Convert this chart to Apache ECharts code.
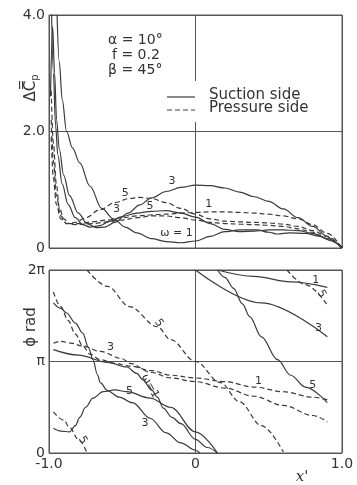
<!DOCTYPE html>
<html>
<head>
<meta charset="utf-8">
<script src="https://cdn.jsdelivr.net/npm/echarts@6/dist/echarts.min.js"></script>
<style>
html, body { margin: 0; padding: 0; background: #fff; }
#chart { width: 357px; height: 485px; }
</style>
</head>
<body>
<div id="chart"></div>
<script>
'use strict';
// 上图: 压差幅值, [x', ΔCp]
var TOP_SUC_1 = [[-0.945,4.0],[-0.93,3.2],[-0.91,2.55],[-0.88,2.0],[-0.84,1.72],[-0.79,1.46],[-0.72,1.06],[-0.64,0.68],[-0.56,0.5],[-0.48,0.36],[-0.4,0.26],[-0.3,0.16],[-0.2,0.11],[-0.1,0.09],[0,0.12],[0.1,0.2],[0.2,0.28],[0.3,0.31],[0.42,0.31],[0.5,0.27],[0.56,0.24],[0.64,0.26],[0.75,0.25],[0.85,0.2],[0.93,0.12],[1.0,0.0]];
var TOP_SUC_3 = [[-0.99,2.6],[-0.975,3.8],[-0.962,3.0],[-0.948,2.2],[-0.93,1.7],[-0.9,1.25],[-0.86,0.9],[-0.8,0.6],[-0.74,0.42],[-0.68,0.35],[-0.62,0.36],[-0.55,0.44],[-0.46,0.6],[-0.38,0.74],[-0.3,0.86],[-0.2,0.97],[-0.1,1.04],[0,1.08],[0.1,1.07],[0.2,1.03],[0.3,0.96],[0.4,0.88],[0.5,0.8],[0.6,0.67],[0.7,0.52],[0.8,0.37],[0.9,0.2],[0.95,0.1],[1.0,0.0]];
var TOP_SUC_5 = [[-0.985,4.4],[-0.97,3.0],[-0.955,2.1],[-0.94,1.6],[-0.91,1.1],[-0.87,0.75],[-0.82,0.52],[-0.77,0.4],[-0.72,0.36],[-0.66,0.38],[-0.58,0.46],[-0.5,0.54],[-0.4,0.6],[-0.3,0.63],[-0.2,0.64],[-0.1,0.6],[0,0.53],[0.1,0.42],[0.2,0.32],[0.3,0.28],[0.4,0.29],[0.5,0.31],[0.6,0.31],[0.7,0.3],[0.8,0.25],[0.9,0.16],[1.0,0.0]];
var TOP_PRE_1 = [[-0.985,2.7],[-0.97,1.8],[-0.95,1.1],[-0.93,0.7],[-0.9,0.5],[-0.86,0.42],[-0.8,0.42],[-0.7,0.45],[-0.6,0.48],[-0.5,0.52],[-0.4,0.55],[-0.3,0.57],[-0.2,0.58],[-0.1,0.6],[0,0.61],[0.1,0.62],[0.2,0.62],[0.3,0.61],[0.4,0.6],[0.5,0.58],[0.6,0.55],[0.7,0.5],[0.8,0.4],[0.9,0.25],[1.0,0.0]];
var TOP_PRE_3 = [[-0.985,2.2],[-0.97,1.5],[-0.95,0.9],[-0.92,0.55],[-0.88,0.42],[-0.82,0.4],[-0.7,0.42],[-0.6,0.45],[-0.5,0.48],[-0.4,0.52],[-0.3,0.55],[-0.2,0.55],[-0.1,0.52],[0,0.48],[0.1,0.44],[0.2,0.42],[0.3,0.41],[0.4,0.4],[0.5,0.39],[0.6,0.37],[0.7,0.33],[0.8,0.27],[0.9,0.16],[1.0,0.0]];
var TOP_PRE_5 = [[-0.985,1.9],[-0.97,1.2],[-0.95,0.75],[-0.92,0.5],[-0.88,0.42],[-0.82,0.44],[-0.75,0.52],[-0.65,0.66],[-0.55,0.78],[-0.45,0.85],[-0.38,0.87],[-0.3,0.85],[-0.2,0.78],[-0.1,0.68],[0,0.58],[0.1,0.5],[0.2,0.46],[0.3,0.45],[0.4,0.44],[0.5,0.43],[0.6,0.41],[0.7,0.37],[0.8,0.3],[0.9,0.2],[1.0,0.0]];

// 下图: 相位, [x', φ/π], 每过 0 就从 2π 重新开始
var PHI_SUC_1_A = [[-0.97,1.13],[-0.8,1.07],[-0.6,0.99],[-0.47,0.94],[-0.4,0.87],[-0.36,0.8],[-0.3,0.69],[-0.26,0.61],[-0.22,0.49],[-0.16,0.39],[-0.1,0.32],[0,0.15],[0.08,0.06],[0.15,0.0]];
var PHI_SUC_1_B = [[0.15,2.0],[0.4,1.93],[0.65,1.87],[0.9,1.81]];
var PHI_SUC_3_A = [[-0.97,1.64],[-0.92,1.58],[-0.88,1.53],[-0.82,1.42],[-0.77,1.31],[-0.73,1.15],[-0.7,1.02],[-0.67,0.86],[-0.65,0.77],[-0.6,0.68],[-0.52,0.61],[-0.43,0.55],[-0.31,0.38],[-0.2,0.22],[-0.1,0.11],[0,0.03],[0.03,0.0]];
var PHI_SUC_3_B = [[0,2.0],[0.45,1.64],[0.9,1.27]];
var PHI_SUC_5_A = [[-0.97,0.27],[-0.92,0.24],[-0.86,0.23],[-0.82,0.3],[-0.79,0.39],[-0.75,0.5],[-0.7,0.6],[-0.63,0.67],[-0.55,0.69],[-0.47,0.67],[-0.31,0.6],[-0.17,0.5],[0,0.23],[0.15,0.0]];
var PHI_SUC_5_B = [[0.15,2.0],[0.2,1.92],[0.26,1.8],[0.32,1.63],[0.37,1.49],[0.45,1.27],[0.56,1.02],[0.65,0.85],[0.75,0.72],[0.9,0.55]];
var PHI_PRE_1 = [[-0.97,1.76],[-0.92,1.6],[-0.87,1.45],[-0.82,1.3],[-0.77,1.17],[-0.72,1.08],[-0.65,1.02],[-0.55,0.98],[-0.45,0.95],[-0.3,0.9],[-0.17,0.85],[0,0.82],[0.2,0.78],[0.4,0.72],[0.6,0.67],[0.8,0.61],[0.9,0.58]];
var PHI_PRE_3 = [[-0.97,1.2],[-0.92,1.22],[-0.85,1.2],[-0.77,1.17],[-0.65,1.11],[-0.5,1.03],[-0.45,0.98],[-0.3,0.88],[-0.17,0.82],[0,0.78],[0.2,0.71],[0.4,0.62],[0.6,0.52],[0.8,0.41],[0.9,0.34]];
var PHI_PRE_5_A = [[-0.97,0.45],[-0.9,0.36],[-0.86,0.28],[-0.8,0.15],[-0.74,0.0]];
var PHI_PRE_5_B = [[-0.74,2.0],[-0.6,1.82],[-0.45,1.6],[-0.26,1.38],[-0.17,1.24],[0,1.0],[0.17,0.77],[0.3,0.56],[0.45,0.3],[0.6,0.01]];
var PHI_PRE_5_C = [[0.625,2.0],[0.75,1.84],[0.9,1.62]];

// 坐标轴刻度
var X_TICKS = { '-1': '-1.0', '0': '0', '1': '1.0' };
var TOP_TICKS = { '0': '0', '2': '2.0', '4': '4.0' };
var PHI_TICKS = { '0': '0', '1': 'π', '2': '2π' };

// 曲线旁的 ω 标注: [gridIndex, x', y, 文本, 旋转]
var CURVE_LABELS = [
    [0, -0.16, 1.14, '3', 0],
    [0, -0.48, 0.95, '5', 0],
    [0, -0.31, 0.72, '5', 0],
    [0, -0.54, 0.66, '3', 0],
    [0, 0.09, 0.76, '1', 0],
    [0, -0.13, 0.26, 'ω = 1', 0],
    [1, 0.82, 1.89, '1', 0],
    [1, 0.86, 1.74, '5', -60],
    [1, 0.84, 1.37, '3', 0],
    [1, 0.8, 0.74, '5', 0],
    [1, 0.43, 0.78, '1', 0],
    [1, -0.25, 1.42, '5', -55],
    [1, -0.58, 1.16, '3', 0],
    [1, -0.45, 0.68, '5', 0],
    [1, -0.31, 0.73, 'ω=1', -62],
    [1, -0.345, 0.33, '3', 0],
    [1, -0.77, 0.14, '5', -60]
];

var INK = '#3a3a3a';
var FONT = 'DejaVu Sans';
var chart = echarts.init(document.getElementById('chart'));

function line(data, grid, dashed) {
    return {
        type: 'line',
        xAxisIndex: grid,
        yAxisIndex: grid,
        data: data,
        smooth: 0.35,
        smoothMonotone: 'x',
        symbol: 'none',
        silent: true,
        lineStyle: {
            color: INK,
            width: 1.2,
            type: dashed ? [5, 3] : 'solid'
        }
    };
}

function xAxis(grid, showLabel) {
    return {
        type: 'value', gridIndex: grid, min: -1, max: 1, interval: 1,
        axisLine: { show: false }, axisTick: { show: false },
        splitLine: { show: true, lineStyle: { color: '#555', width: 1 } },
        axisLabel: {
            show: showLabel, color: '#333', fontFamily: FONT, fontSize: 14, margin: 4,
            formatter: function (v) { return X_TICKS[String(v)]; }
        }
    };
}

function yAxis(grid, max, ticks) {
    return {
        type: 'value', gridIndex: grid, min: 0, max: max, interval: max / 2,
        axisLine: { show: false }, axisTick: { show: false },
        splitLine: { show: true, lineStyle: { color: '#555', width: 1 } },
        axisLabel: {
            color: '#333', fontFamily: FONT, fontSize: 14, margin: 4,
            formatter: function (v) { return ticks[String(v)]; }
        }
    };
}

var option = {
    backgroundColor: '#fff',
    animation: false,
    grid: [
        { left: 49, right: 15, top: 15, height: 233, show: true, borderColor: '#555', borderWidth: 1 },
        { left: 49, right: 15, top: 270, height: 183, show: true, borderColor: '#555', borderWidth: 1 }
    ],
    xAxis: [xAxis(0, false), xAxis(1, true)],
    yAxis: [yAxis(0, 4, TOP_TICKS), yAxis(1, 2, PHI_TICKS)],
    series: [
        line(TOP_SUC_1, 0, false), line(TOP_SUC_3, 0, false), line(TOP_SUC_5, 0, false),
        line(TOP_PRE_1, 0, true), line(TOP_PRE_3, 0, true), line(TOP_PRE_5, 0, true),
        line(PHI_SUC_1_A, 1, false), line(PHI_SUC_1_B, 1, false),
        line(PHI_SUC_3_A, 1, false), line(PHI_SUC_3_B, 1, false),
        line(PHI_SUC_5_A, 1, false), line(PHI_SUC_5_B, 1, false),
        line(PHI_PRE_1, 1, true), line(PHI_PRE_3, 1, true),
        line(PHI_PRE_5_A, 1, true), line(PHI_PRE_5_B, 1, true), line(PHI_PRE_5_C, 1, true)
    ]
};
chart.setOption(option);

// 文字: 参数, 图例, 轴名, 曲线标注
var graphics = [
    { type: 'text', left: 108, top: 33, z: 20, style: { text: 'α = 10°', fontFamily: FONT, fontSize: 14, fill: '#333' } },
    { type: 'text', left: 112, top: 48, z: 20, style: { text: 'f = 0.2', fontFamily: FONT, fontSize: 14, fill: '#333' } },
    { type: 'text', left: 108, top: 63, z: 20, style: { text: 'β = 45°', fontFamily: FONT, fontSize: 14, fill: '#333' } },
    { type: 'rect', z: 15, shape: { x: 150, y: 81, width: 170, height: 41 }, style: { fill: '#fff' } },
    { type: 'line', z: 20, shape: { x1: 167, y1: 97, x2: 195, y2: 97 }, style: { stroke: INK, lineWidth: 1.2 } },
    { type: 'line', z: 20, shape: { x1: 167, y1: 110, x2: 195, y2: 110 }, style: { stroke: INK, lineWidth: 1.2, lineDash: [5, 3] } },
    { type: 'text', left: 209, top: 88, z: 20, style: { text: 'Suction side', fontFamily: FONT, fontSize: 15, fill: '#333' } },
    { type: 'text', left: 209, top: 101, z: 20, style: { text: 'Pressure side', fontFamily: FONT, fontSize: 15, fill: '#333' } },
    { type: 'text', x: 31, y: 88, rotation: Math.PI / 2, z: 20,
      style: { text: 'ΔC\u033f{p|p}', fontFamily: FONT, fontSize: 15, fill: '#333', align: 'center', verticalAlign: 'middle',
               rich: { p: { fontSize: 10, fontFamily: FONT, fill: '#333', padding: [8, 0, 0, 0] } } } },
    { type: 'text', x: 31, y: 327, rotation: Math.PI / 2, z: 20,
      style: { text: 'ϕ rad', fontFamily: FONT, fontSize: 15, fill: '#333', align: 'center', verticalAlign: 'middle' } },
    { type: 'text', x: 302, y: 477, z: 20,
      style: { text: "x'", fontFamily: 'DejaVu Serif', fontStyle: 'italic', fontSize: 15, fill: '#333', align: 'center', verticalAlign: 'middle' } }
];
CURVE_LABELS.forEach(function (lab) {
    var p = chart.convertToPixel({ gridIndex: lab[0] }, [lab[1], lab[2]]);
    graphics.push({
        type: 'text', x: p[0], y: p[1], z: 20, rotation: lab[4] * Math.PI / 180,
        style: { text: lab[3], fontFamily: FONT, fontSize: 11, fill: '#333', align: 'center', verticalAlign: 'middle' }
    });
});
chart.setOption({ graphic: graphics });
</script>
</body>
</html>
